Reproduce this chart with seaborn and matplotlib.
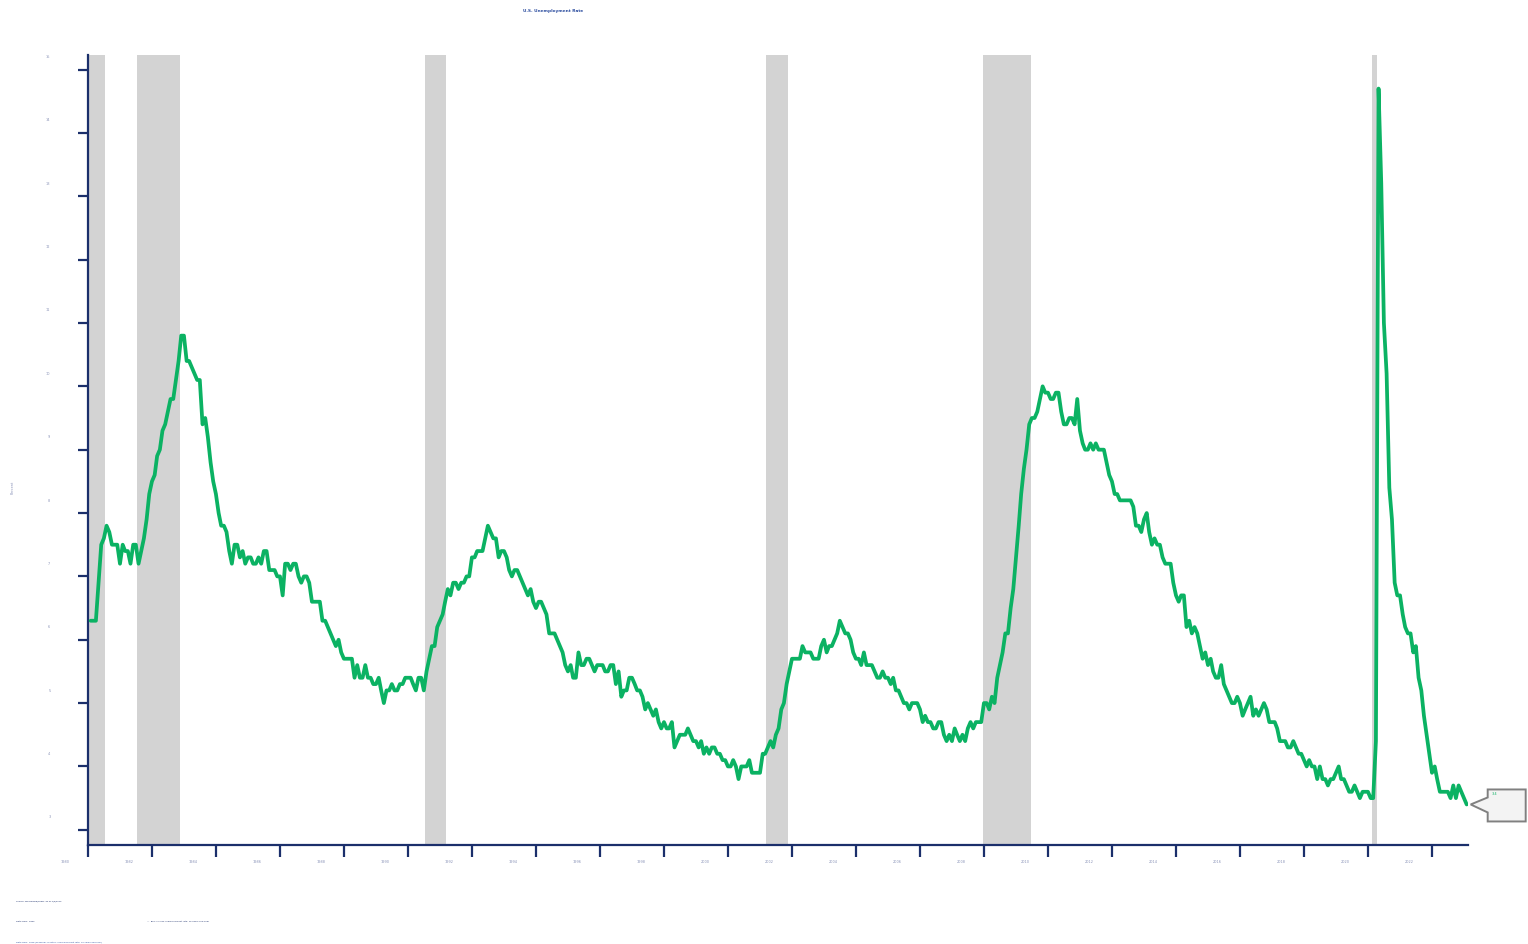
import numpy as np
import pandas as pd
import seaborn as sns
import matplotlib
matplotlib.use("Agg")
import matplotlib.pyplot as plt
import matplotlib.dates as mdates
import matplotlib.transforms as mtransforms
from matplotlib.patches import Polygon

# ───── data ─────────────────────────────────────────────────────────────────
# U.S. civilian unemployment rate, monthly, Jan 1980 – Jan 2023 (percent)
start_month = "1980-01-31"
unrate = [
    6.3, 6.3, 6.3, 6.9, 7.5, 7.6, 7.8, 7.7, 7.5, 7.5, 7.5, 7.2,      # 1980
    7.5, 7.4, 7.4, 7.2, 7.5, 7.5, 7.2, 7.4, 7.6, 7.9, 8.3, 8.5,      # 1981
    8.6, 8.9, 9.0, 9.3, 9.4, 9.6, 9.8, 9.8, 10.1, 10.4, 10.8, 10.8,  # 1982
    10.4, 10.4, 10.3, 10.2, 10.1, 10.1, 9.4, 9.5, 9.2, 8.8, 8.5, 8.3,  # 1983
    8.0, 7.8, 7.8, 7.7, 7.4, 7.2, 7.5, 7.5, 7.3, 7.4, 7.2, 7.3,      # 1984
    7.3, 7.2, 7.2, 7.3, 7.2, 7.4, 7.4, 7.1, 7.1, 7.1, 7.0, 7.0,      # 1985
    6.7, 7.2, 7.2, 7.1, 7.2, 7.2, 7.0, 6.9, 7.0, 7.0, 6.9, 6.6,      # 1986
    6.6, 6.6, 6.6, 6.3, 6.3, 6.2, 6.1, 6.0, 5.9, 6.0, 5.8, 5.7,      # 1987
    5.7, 5.7, 5.7, 5.4, 5.6, 5.4, 5.4, 5.6, 5.4, 5.4, 5.3, 5.3,      # 1988
    5.4, 5.2, 5.0, 5.2, 5.2, 5.3, 5.2, 5.2, 5.3, 5.3, 5.4, 5.4,      # 1989
    5.4, 5.3, 5.2, 5.4, 5.4, 5.2, 5.5, 5.7, 5.9, 5.9, 6.2, 6.3,      # 1990
    6.4, 6.6, 6.8, 6.7, 6.9, 6.9, 6.8, 6.9, 6.9, 7.0, 7.0, 7.3,      # 1991
    7.3, 7.4, 7.4, 7.4, 7.6, 7.8, 7.7, 7.6, 7.6, 7.3, 7.4, 7.4,      # 1992
    7.3, 7.1, 7.0, 7.1, 7.1, 7.0, 6.9, 6.8, 6.7, 6.8, 6.6, 6.5,      # 1993
    6.6, 6.6, 6.5, 6.4, 6.1, 6.1, 6.1, 6.0, 5.9, 5.8, 5.6, 5.5,      # 1994
    5.6, 5.4, 5.4, 5.8, 5.6, 5.6, 5.7, 5.7, 5.6, 5.5, 5.6, 5.6,      # 1995
    5.6, 5.5, 5.5, 5.6, 5.6, 5.3, 5.5, 5.1, 5.2, 5.2, 5.4, 5.4,      # 1996
    5.3, 5.2, 5.2, 5.1, 4.9, 5.0, 4.9, 4.8, 4.9, 4.7, 4.6, 4.7,      # 1997
    4.6, 4.6, 4.7, 4.3, 4.4, 4.5, 4.5, 4.5, 4.6, 4.5, 4.4, 4.4,      # 1998
    4.3, 4.4, 4.2, 4.3, 4.2, 4.3, 4.3, 4.2, 4.2, 4.1, 4.1, 4.0,      # 1999
    4.0, 4.1, 4.0, 3.8, 4.0, 4.0, 4.0, 4.1, 3.9, 3.9, 3.9, 3.9,      # 2000
    4.2, 4.2, 4.3, 4.4, 4.3, 4.5, 4.6, 4.9, 5.0, 5.3, 5.5, 5.7,      # 2001
    5.7, 5.7, 5.7, 5.9, 5.8, 5.8, 5.8, 5.7, 5.7, 5.7, 5.9, 6.0,      # 2002
    5.8, 5.9, 5.9, 6.0, 6.1, 6.3, 6.2, 6.1, 6.1, 6.0, 5.8, 5.7,      # 2003
    5.7, 5.6, 5.8, 5.6, 5.6, 5.6, 5.5, 5.4, 5.4, 5.5, 5.4, 5.4,      # 2004
    5.3, 5.4, 5.2, 5.2, 5.1, 5.0, 5.0, 4.9, 5.0, 5.0, 5.0, 4.9,      # 2005
    4.7, 4.8, 4.7, 4.7, 4.6, 4.6, 4.7, 4.7, 4.5, 4.4, 4.5, 4.4,      # 2006
    4.6, 4.5, 4.4, 4.5, 4.4, 4.6, 4.7, 4.6, 4.7, 4.7, 4.7, 5.0,      # 2007
    5.0, 4.9, 5.1, 5.0, 5.4, 5.6, 5.8, 6.1, 6.1, 6.5, 6.8, 7.3,      # 2008
    7.8, 8.3, 8.7, 9.0, 9.4, 9.5, 9.5, 9.6, 9.8, 10.0, 9.9, 9.9,     # 2009
    9.8, 9.8, 9.9, 9.9, 9.6, 9.4, 9.4, 9.5, 9.5, 9.4, 9.8, 9.3,      # 2010
    9.1, 9.0, 9.0, 9.1, 9.0, 9.1, 9.0, 9.0, 9.0, 8.8, 8.6, 8.5,      # 2011
    8.3, 8.3, 8.2, 8.2, 8.2, 8.2, 8.2, 8.1, 7.8, 7.8, 7.7, 7.9,      # 2012
    8.0, 7.7, 7.5, 7.6, 7.5, 7.5, 7.3, 7.2, 7.2, 7.2, 6.9, 6.7,      # 2013
    6.6, 6.7, 6.7, 6.2, 6.3, 6.1, 6.2, 6.1, 5.9, 5.7, 5.8, 5.6,      # 2014
    5.7, 5.5, 5.4, 5.4, 5.6, 5.3, 5.2, 5.1, 5.0, 5.0, 5.1, 5.0,      # 2015
    4.8, 4.9, 5.0, 5.1, 4.8, 4.9, 4.8, 4.9, 5.0, 4.9, 4.7, 4.7,      # 2016
    4.7, 4.6, 4.4, 4.4, 4.4, 4.3, 4.3, 4.4, 4.3, 4.2, 4.2, 4.1,      # 2017
    4.0, 4.1, 4.0, 4.0, 3.8, 4.0, 3.8, 3.8, 3.7, 3.8, 3.8, 3.9,      # 2018
    4.0, 3.8, 3.8, 3.7, 3.6, 3.6, 3.7, 3.6, 3.5, 3.6, 3.6, 3.6,      # 2019
    3.5, 3.5, 4.4, 14.7, 13.2, 11.0, 10.2, 8.4, 7.9, 6.9, 6.7, 6.7,  # 2020
    6.4, 6.2, 6.1, 6.1, 5.8, 5.9, 5.4, 5.2, 4.8, 4.5, 4.2, 3.9,      # 2021
    4.0, 3.8, 3.6, 3.6, 3.6, 3.6, 3.5, 3.7, 3.5, 3.7, 3.6, 3.5,      # 2022
    3.4,                                                             # 2023
]

# NBER recessions (start, end)
rec_start = ["1980-01-15", "1981-07-15", "1990-07-15", "2001-03-15", "2007-12-15", "2020-02-15"]
rec_end   = ["1980-07-15", "1982-11-15", "1991-03-15", "2001-11-15", "2009-06-15", "2020-04-15"]

y_ticks = list(range(3, 16))
x_tick_years = list(range(1980, 2023, 2))

title = "U.S. Unemployment Rate"
footer_lines = [
    "Source: Bloomberg/FRED, as of 2/3/2023",
    "Data from: 1980",
    "Data from: 1948 (seasonal, monthly unemployment rate, 16 years and over)",
]
legend_note = "—  BLS: civilian unemployment rate, 16 years and over"

# ───── style ────────────────────────────────────────────────────────────────
NAVY = "#1B2F6B"
GREEN = "#0BB263"
LABEL = "#8A93B8"

sns.set_style("white")
plt.rcParams["font.family"] = ["DejaVu Sans"]

df = pd.DataFrame({"date": pd.date_range(start_month, periods=len(unrate), freq="ME"),
                   "rate": unrate})

fig = plt.figure(figsize=(15.28, 9.44), dpi=100)
ax = fig.add_axes([88/1528, 1 - 845/944, 1380/1528, 790/944])

for s, e in zip(rec_start, rec_end):
    ax.axvspan(pd.Timestamp(s), pd.Timestamp(e), color="#D3D3D3", lw=0, zorder=0)

sns.lineplot(data=df, x="date", y="rate", color=GREEN, lw=2.7, ax=ax, zorder=3)

ax.set_xlim(pd.Timestamp("1980-01-01"), pd.Timestamp("2023-02-15"))
ax.set_ylim(2.76, 15.23)
ax.set_xlabel("")
ax.set_ylabel("")

for side in ["top", "right"]:
    ax.spines[side].set_visible(False)
for side in ["left", "bottom"]:
    ax.spines[side].set_color(NAVY)
    ax.spines[side].set_linewidth(1.6)

ax.set_yticks(y_ticks)
ax.set_yticklabels([str(v) for v in y_ticks])
ax.set_xticks([pd.Timestamp(f"{y}-01-01") for y in x_tick_years])
ax.set_xticklabels([str(y) for y in x_tick_years])
ax.tick_params(axis="y", left=True, direction="out", length=7, width=1.6, color=NAVY,
               labelsize=2.5, labelcolor=LABEL, pad=20)
ax.tick_params(axis="x", bottom=True, direction="out", length=8.5, width=1.6, color=NAVY,
               labelsize=2.5, labelcolor=LABEL, pad=2)

# labels sit above-left of their ticks in the original
for lab in ax.get_yticklabels():
    lab.set_transform(lab.get_transform() + mtransforms.ScaledTranslation(0, 0.13, fig.dpi_scale_trans))
for lab in ax.get_xticklabels():
    lab.set_transform(lab.get_transform() + mtransforms.ScaledTranslation(-0.23, 0, fig.dpi_scale_trans))

fig.text(13/1528, 1 - 487/944, "Percent", rotation=90, fontsize=2.5, color=LABEL,
         ha="center", va="center")
fig.text(553/1528, 1 - 11/944, title, fontsize=3.1, fontweight="bold", color="#2E4FA0",
         ha="center", va="center")

# footer notes
fig.text(16/1528, 1 - 901/944, footer_lines[0], fontsize=1.6, color=NAVY, va="center")
fig.text(16/1528, 1 - 921/944, footer_lines[1], fontsize=1.6, color=NAVY, va="center")
fig.text(147/1528, 1 - 921/944, legend_note, fontsize=1.6, color=NAVY, va="center")
fig.text(16/1528, 1 - 942/944, footer_lines[2], fontsize=1.6, color="#2E4FA0", va="center")

# callout with last value
last = df.iloc[-1]
anchor = fig.dpi_scale_trans + mtransforms.ScaledTranslation(
    mdates.date2num(last["date"]), last["rate"], ax.transData)
callout = Polygon([(0.04, 0.0), (0.21, 0.07), (0.21, 0.15), (0.59, 0.15),
                   (0.59, -0.17), (0.21, -0.17), (0.21, -0.08)],
                  closed=True, transform=anchor, fc="#F3F3F3", ec="#808080",
                  lw=1.4, clip_on=False, zorder=5)
ax.add_patch(callout)
ax.text(0.25, 0.1, f"{last['rate']:.1f}", transform=anchor, fontsize=2.5,
        color=GREEN, ha="left", va="center", zorder=6)

fig.savefig("out.png", dpi=100)
